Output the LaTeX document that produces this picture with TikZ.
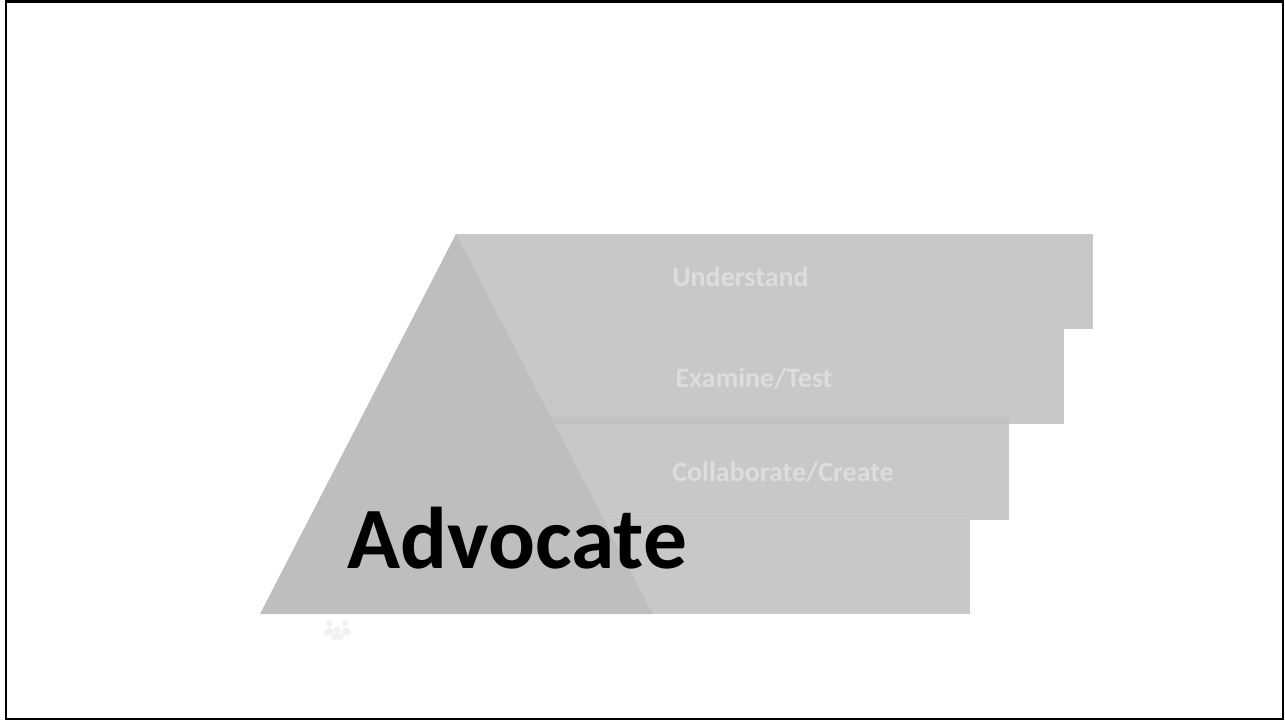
\documentclass[tikz,border=0pt]{standalone}
\usepackage{fontspec}
\setmainfont{Carlito}
\definecolor{stepgray}{HTML}{C8C8C8}
\definecolor{bandgray}{HTML}{C2C2C2}
\definecolor{seamgray}{HTML}{C4C4C4}
\definecolor{trigray}{HTML}{BEBEBE}
\definecolor{labelgray}{HTML}{DDDDDD}
\definecolor{icongray}{HTML}{F1F1F1}
\tikzset{
  stepshape/.style={fill=stepgray,draw=none},
  steplabel/.style={text=labelgray,font=\bfseries\fontsize{28}{32}\selectfont,inner sep=0pt,anchor=base},
  person/.style={fill=icongray,draw=none}
}
\begin{document}
\begin{tikzpicture}[x=1pt,y=-1pt]
\useasboundingbox (0,0) rectangle (1285,720);
\fill[white] (0,0) rectangle (1285,720);
% steps
\path[stepshape] (456,234) rectangle (1093,329);
\path[stepshape] (456,329) rectangle (1064,424);
\path[stepshape] (456,417) rectangle (1009,520);
\path[stepshape] (456,519) rectangle (970,614);
\fill[bandgray] (456,417) rectangle (1009,424);
\fill[seamgray] (456,519) rectangle (970,520);
% triangle
\fill[trigray] (456,234) -- (652.5,614) -- (260,614) -- cycle;
% labels
\node[steplabel] (understand) at (740.5,286) {Understand};
\node[steplabel] (examine) at (754,387) {Examine/Test};
\node[steplabel] (collab) at (783,481) {Collaborate/Create};
\node[text=black,font=\bfseries\fontsize{87.5}{100}\selectfont,inner sep=0pt,anchor=base] (advocate) at (517.3,568) {Advocate};
% people icon
\begin{scope}[yshift=-1pt]
\fill[person] (329.5,622.5) circle (3.2);
\fill[person] (345.2,622.5) circle (3.2);
\fill[person] (337.3,628.5) circle (3.3);
\path[person] (323.5,632.5) .. controls (323.5,627) and (329,627) .. (330,627) .. controls (332,627) and (333,628) .. (333.5,630) -- (331,634) -- (323.5,634) -- cycle;
\path[person] (351,632.5) .. controls (351,627) and (346,627) .. (345,627) .. controls (343,627) and (342,628) .. (341,630) -- (343.5,634) -- (351,634) -- cycle;
\path[person] (331.5,638.5) -- (331.5,636) .. controls (331.5,632) and (334,632) .. (337.3,632) .. controls (340.5,632) and (343,632) .. (343,636) -- (343,638.5) -- cycle;
\end{scope}
% frame
\draw[black,line width=2.5pt] (6.2,1.6) -- (1283,1.6) -- (1283,718.8) -- (6.2,718.8) -- cycle;
\end{tikzpicture}
\end{document}
